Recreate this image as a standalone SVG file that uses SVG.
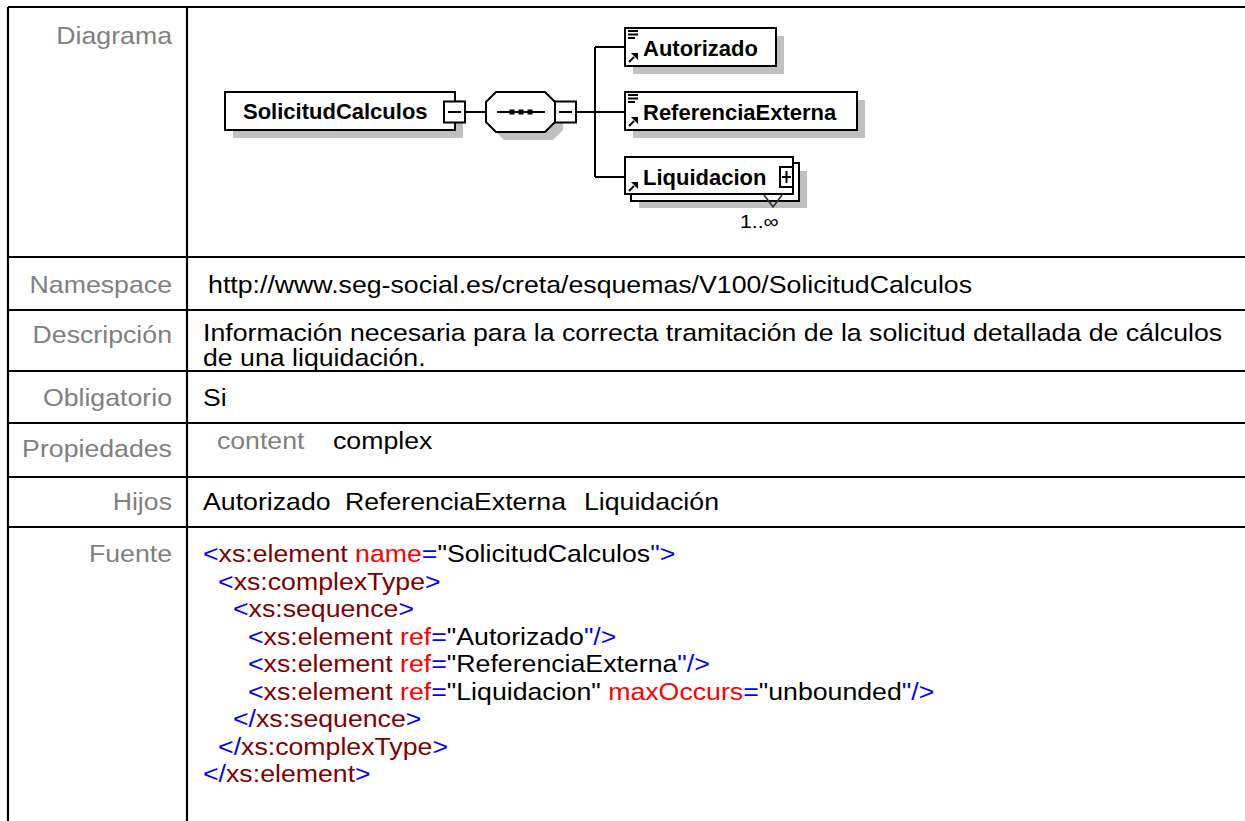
<svg xmlns="http://www.w3.org/2000/svg" width="1245" height="821" viewBox="0 0 1245 821">
<defs>
<style>
.lbl{font-family:"Liberation Sans",Arial,sans-serif;font-size:24px;fill:#808080;text-anchor:end}
.val{font-family:"Liberation Sans",Arial,sans-serif;font-size:24px;fill:#000}
.grid{stroke:#000;stroke-width:2.2;fill:none}
.box{fill:#fff;stroke:#000;stroke-width:2}
.shadow{fill:#c0c0c0;stroke:none}
.conn{stroke:#000;stroke-width:2;fill:none}
.name{font-family:"Liberation Sans",Arial,sans-serif;font-weight:bold;font-size:22px;fill:#000}
.t{fill:#0000ff}.e{fill:#800000}.a{fill:#ff0000}.v{fill:#000}
.ico{stroke:#000;stroke-width:2;fill:none}
</style>
</defs>
<rect x="0" y="0" width="1245" height="821" fill="#fff"/>

<g id="table">
<path class="grid" d="M8,7 H1245 M8,257 H1245 M8,310 H1245 M8,371 H1245 M8,423 H1245 M8,477 H1245 M8,527 H1245 M8,7 V821 M187,7 V821"/>
<g transform="scale(1.1125 1)">
<text class="lbl" x="154.6" y="44">Diagrama</text>
<text class="lbl" x="154.6" y="293">Namespace</text>
<text class="lbl" x="154.6" y="343">Descripción</text>
<text class="lbl" x="154.6" y="406">Obligatorio</text>
<text class="lbl" x="154.6" y="457">Propiedades</text>
<text class="lbl" x="154.6" y="510">Hijos</text>
<text class="lbl" x="154.6" y="562">Fuente</text>

<text class="val" x="187" y="293">http://www.seg-social.es/creta/esquemas/V100/SolicitudCalculos</text>
<text class="val" x="182.5" y="341">Información necesaria para la correcta tramitación de la solicitud detallada de cálculos</text>
<text class="val" x="182.5" y="366">de una liquidación.</text>
<text class="val" x="182.5" y="406">Si</text>
<text class="val" x="195" y="449" style="fill:#808080">content</text>
<text class="val" x="299.3" y="449">complex</text>
<text class="val" x="182.5" y="510">Autorizado</text>
<text class="val" x="310.1" y="510">ReferenciaExterna</text>
<text class="val" x="524.9" y="510">Liquidación</text>

<text class="val" x="182.5" y="562"><tspan class="t">&lt;</tspan><tspan class="e">xs:element</tspan> <tspan class="a">name</tspan><tspan class="t">=</tspan>"SolicitudCalculos<tspan class="t">"&gt;</tspan></text>
<text class="val" x="196" y="590"><tspan class="t">&lt;</tspan><tspan class="e">xs:complexType</tspan><tspan class="t">&gt;</tspan></text>
<text class="val" x="209.4" y="617"><tspan class="t">&lt;</tspan><tspan class="e">xs:sequence</tspan><tspan class="t">&gt;</tspan></text>
<text class="val" x="222.9" y="645"><tspan class="t">&lt;</tspan><tspan class="e">xs:element</tspan> <tspan class="a">ref</tspan><tspan class="t">=</tspan>"Autorizado<tspan class="t">"/&gt;</tspan></text>
<text class="val" x="222.9" y="672"><tspan class="t">&lt;</tspan><tspan class="e">xs:element</tspan> <tspan class="a">ref</tspan><tspan class="t">=</tspan>"ReferenciaExterna<tspan class="t">"/&gt;</tspan></text>
<text class="val" x="222.9" y="700"><tspan class="t">&lt;</tspan><tspan class="e">xs:element</tspan> <tspan class="a">ref</tspan><tspan class="t">=</tspan>"Liquidacion" <tspan class="a">maxOccurs</tspan><tspan class="t">=</tspan>"unbounded<tspan class="t">"/&gt;</tspan></text>
<text class="val" x="209.4" y="727"><tspan class="t">&lt;/</tspan><tspan class="e">xs:sequence</tspan><tspan class="t">&gt;</tspan></text>
<text class="val" x="196" y="755"><tspan class="t">&lt;/</tspan><tspan class="e">xs:complexType</tspan><tspan class="t">&gt;</tspan></text>
<text class="val" x="182.5" y="782"><tspan class="t">&lt;/</tspan><tspan class="e">xs:element</tspan><tspan class="t">&gt;</tspan></text>
</g>
</g>

<g id="connectors">
<path class="conn" d="M465,112 H486 M576,112 H595 M595,47 V177 M595,47 H625 M595,112 H625 M595,177 H625"/>
</g>

<g id="node-SolicitudCalculos">
<rect class="shadow" x="233" y="100" width="230" height="38"/>
<rect class="box" x="225" y="92" width="230" height="38"/>
<text class="name" x="243" y="119">SolicitudCalculos</text>
<rect class="box" x="444" y="101.5" width="21" height="21"/>
<path class="conn" d="M448,112 H461"/>
</g>

<g id="node-sequence">
<polygon class="shadow" points="494,110 504,100 553,100 563,110 563,130 553,140 504,140 494,130"/>
<polygon class="box" points="486,102 496,92 545,92 555,102 555,122 545,132 496,132 486,122"/>
<path class="conn" d="M497,112 H545"/>
<rect x="509.5" y="109.5" width="5" height="5" fill="#000"/>
<rect x="518.5" y="109.5" width="5" height="5" fill="#000"/>
<rect x="527.5" y="109.5" width="5" height="5" fill="#000"/>
<rect class="box" x="555" y="101.5" width="21" height="21"/>
<path class="conn" d="M559,112 H572"/>
</g>

<g id="node-Autorizado">
<rect class="shadow" x="633" y="36" width="151" height="38"/>
<rect class="box" x="625" y="28" width="151" height="38"/>
<path class="ico" d="M628,31 H638 M628,34.5 H638 M628,38 H635"/>
<path class="ico" d="M629,62 L634,57"/>
<polygon points="638,53 638,60 631,53" fill="#000"/>
<text class="name" x="643" y="56">Autorizado</text>
</g>

<g id="node-ReferenciaExterna">
<rect class="shadow" x="633" y="100" width="232" height="38"/>
<rect class="box" x="625" y="92" width="232" height="38"/>
<path class="ico" d="M628,95 H638 M628,98.5 H638 M628,102 H635"/>
<path class="ico" d="M629,126 L634,121"/>
<polygon points="638,117 638,124 631,117" fill="#000"/>
<text class="name" x="643" y="120">ReferenciaExterna</text>
</g>

<g id="node-Liquidacion">
<rect class="shadow" x="639" y="171" width="168" height="37"/>
<rect class="box" x="631" y="163" width="168" height="38"/>
<path d="M764,195 L773,207 L782,195" stroke="#303030" stroke-width="1.6" fill="none"/>
<rect class="box" x="625" y="157" width="168" height="37"/>
<path class="ico" d="M629,191 L634,186"/>
<polygon points="638,182 638,189 631,182" fill="#000"/>
<text class="name" x="643" y="185">Liquidacion</text>
<rect class="box" x="780" y="167" width="13" height="20"/>
<path class="conn" d="M782,177 H791 M786.5,171 V183"/>
<text x="665.2" y="228" transform="scale(1.1125 1)" font-family="Liberation Sans, Arial, sans-serif" font-size="19">1..∞</text>
</g>
</svg>
